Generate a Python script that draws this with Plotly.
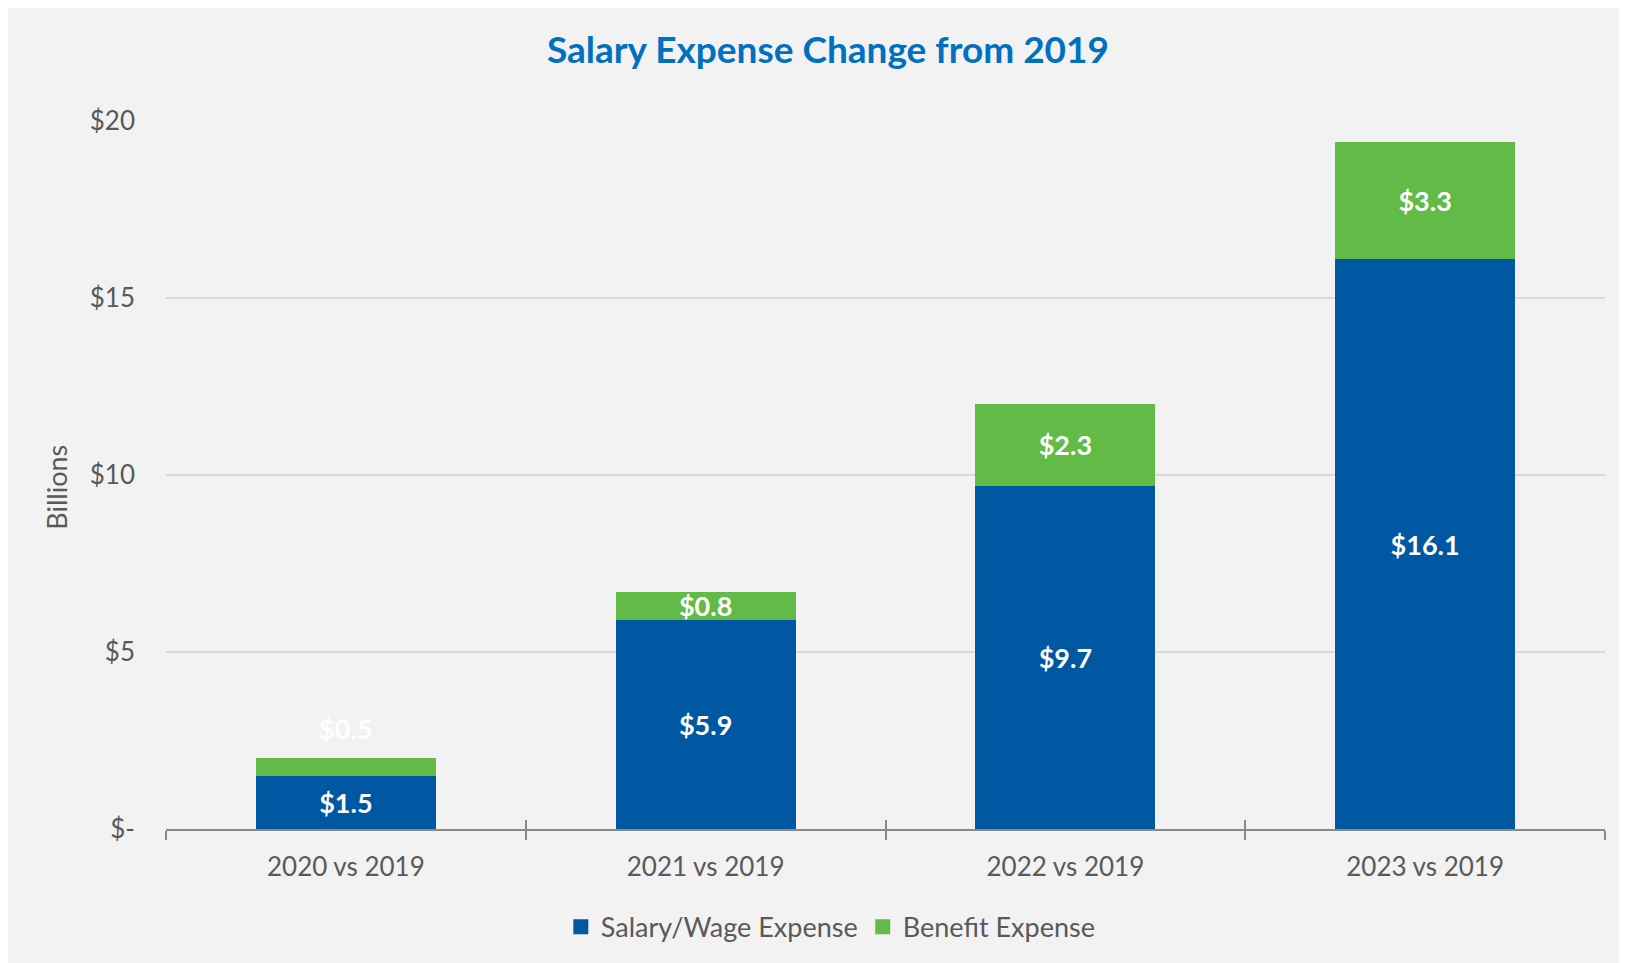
import plotly.graph_objects as go

categories = ["2020 vs 2019", "2021 vs 2019", "2022 vs 2019", "2023 vs 2019"]
salary_wage = [1.5, 5.9, 9.7, 16.1]
benefit = [0.5, 0.8, 2.3, 3.3]
y_tickvals = [0, 5, 10, 15, 20]
y_ticktext = ["$-", "$5", "$10", "$15", "$20"]

BLUE = "#0058A3"
GREEN = "#62BB46"
FONT = "Lato"
GRAY_TXT = "#595959"
LBL = dict(family=FONT, size=27, color="white", weight="bold")

W, H = 1619, 955

fig = go.Figure()
fig.add_trace(go.Bar(
    x=categories, y=salary_wage, name="Salary/Wage Expense", showlegend=False,
    marker=dict(color=BLUE, line=dict(width=0)),
    text=[f"${v:.1f}" for v in salary_wage], textposition="inside",
    insidetextanchor="middle", textfont=LBL,
))
fig.add_trace(go.Bar(
    x=categories, y=benefit, name="Benefit Expense", showlegend=False,
    marker=dict(color=GREEN, line=dict(width=0)),
    text=["" if i == 0 else f"${v:.1f}" for i, v in enumerate(benefit)],
    textposition="inside", insidetextanchor="middle", textfont=LBL,
))
# legend entries with larger square swatches
fig.add_trace(go.Scatter(x=[None], y=[None], mode="markers", name="Salary/Wage Expense",
                         marker=dict(symbol="square", size=15, color=BLUE)))
fig.add_trace(go.Scatter(x=[None], y=[None], mode="markers", name="Benefit Expense",
                         marker=dict(symbol="square", size=15, color=GREEN)))
# overlay axis for the upper half of crossing tick marks
fig.add_trace(go.Scatter(x=[None], y=[None], xaxis="x2", showlegend=False, hoverinfo="skip"))

fig.update_layout(
    width=W, height=H,
    barmode="stack", bargap=0.5,
    paper_bgcolor="#F2F2F2", plot_bgcolor="#F2F2F2",
    margin=dict(l=158, r=22, t=113, b=133),
    font=dict(family=FONT, color=GRAY_TXT, size=25),
    uniformtext=dict(minsize=27, mode="show"),
    title=dict(text="Salary Expense Change from 2019", x=820 / W, xanchor="center",
               y=1 - 42 / H, yanchor="middle", xref="container", yref="container",
               font=dict(family=FONT, size=37, color="#0070C0", weight="bold")),
    showlegend=True,
    legend=dict(orientation="h", x=0.462, xanchor="center", y=-0.137, yanchor="middle",
                font=dict(family=FONT, size=27, color=GRAY_TXT), bgcolor="rgba(0,0,0,0)",
                itemsizing="trace", traceorder="normal"),
    xaxis=dict(type="category", showgrid=False, showline=True, linecolor="#898989", linewidth=2,
               ticks="outside", tickson="boundaries", ticklen=9, tickwidth=2, tickcolor="#898989",
               tickfont=dict(family=FONT, size=26, color=GRAY_TXT), ticklabelstandoff=14,
               zeroline=False),
    xaxis2=dict(overlaying="x", anchor="y", side="bottom", range=[-0.5, 3.5],
                tickvals=[-0.5, 0.5, 1.5, 2.5, 3.5], ticks="inside", ticklen=9, tickwidth=2,
                tickcolor="#898989", showticklabels=False, showgrid=False, showline=False,
                zeroline=False),
    yaxis=dict(range=[0, 20], tickvals=y_tickvals, ticktext=y_ticktext,
               showgrid=True, gridcolor="#D9D9D9", gridwidth=1.5, zeroline=False,
               tickfont=dict(family=FONT, size=26, color=GRAY_TXT), ticklabelstandoff=30,
               showline=False),
    annotations=[
        dict(text="Billions", xref="paper", yref="paper", x=-(166 - 57) / 1439, y=0.482,
             textangle=-90, showarrow=False, xanchor="center", yanchor="middle",
             font=dict(family=FONT, size=27, color=GRAY_TXT)),
        dict(text=f"${benefit[0]:.1f}", x=categories[0], y=salary_wage[0] + benefit[0],
             xref="x", yref="y", showarrow=False, yanchor="middle", yshift=30, font=LBL),
    ],
)

fig.write_html("out.html")
